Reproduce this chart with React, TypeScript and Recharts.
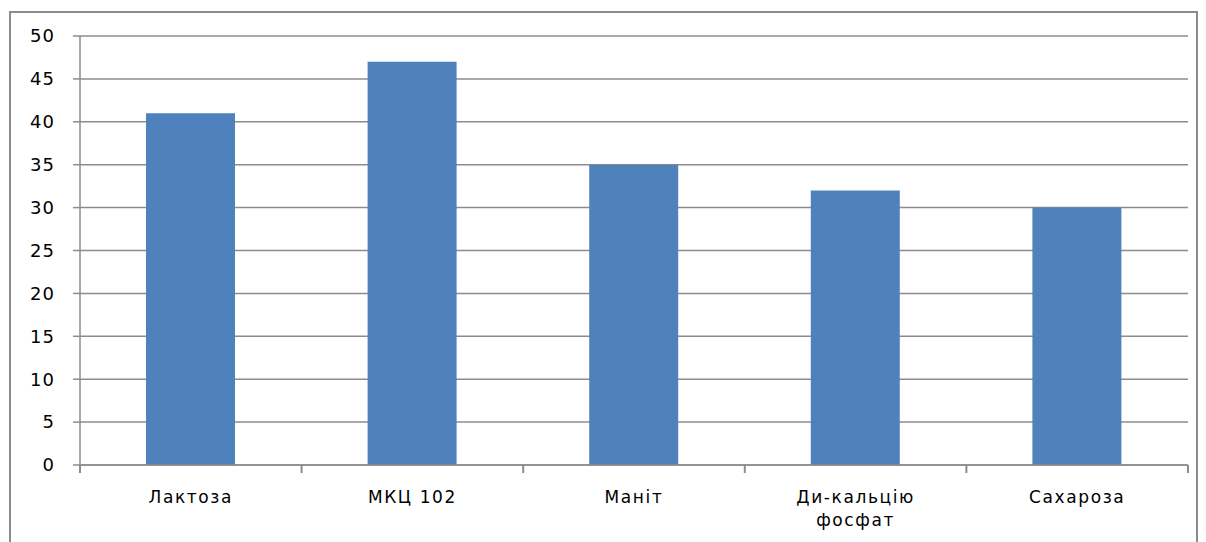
import React from 'react';
import { BarChart, Bar, XAxis, YAxis, CartesianGrid } from 'recharts';

// Категорії наповнювачів та значення показника
const categories: string[] = ['Лактоза', 'МКЦ 102', 'Маніт', 'Ди-кальцію фосфат', 'Сахароза'];
const values: number[] = [41, 47, 35, 32, 30];
const yTicks: number[] = [0, 5, 10, 15, 20, 25, 30, 35, 40, 45, 50];

const data = categories.map((name, i) => ({ name, value: values[i] }));

const FONT = '"DejaVu Sans", Verdana, sans-serif';
const GRID = '#8c8c8c';
const TICK_LEN = 8;

// Підпис категорії з поділками на межах смуги; довгі назви — у два рядки
const CategoryTick = (props: any) => {
  const { x, y, payload, index, visibleTicksCount, width } = props;
  const text: string = payload.value;
  const lines = text === 'Ди-кальцію фосфат' ? ['Ди-кальцію', 'фосфат'] : [text];
  const half: number =
    typeof payload.offset === 'number' && payload.offset > 0
      ? payload.offset
      : width / (2 * visibleTicksCount);
  const axisY = y - TICK_LEN;
  return (
    <g>
      <line x1={x - half} x2={x - half} y1={axisY} y2={y} stroke={GRID} strokeWidth={2} />
      {index === visibleTicksCount - 1 && (
        <line x1={x + half} x2={x + half} y1={axisY} y2={y} stroke={GRID} strokeWidth={2} />
      )}
      <text
        x={x}
        y={y}
        textAnchor="middle"
        fill="#000"
        fontFamily={FONT}
        fontSize={17}
        letterSpacing={1.6}
      >
        {lines.map((l, i) => (
          <tspan key={i} x={x} dy={i === 0 ? 30 : 23}>
            {l}
          </tspan>
        ))}
      </text>
    </g>
  );
};

export default function App() {
  return (
    <div style={{ position: 'absolute', left: 0, top: 0, width: 1206, height: 542, overflow: 'hidden', background: '#fff' }}>
      <div
        style={{
          position: 'absolute',
          left: 9,
          top: 11,
          width: 1189,
          height: 600,
          border: `2px solid ${GRID}`,
          boxSizing: 'border-box',
        }}
      />
      <div style={{ position: 'absolute', left: 0, top: 0 }}>
        <BarChart
          width={1206}
          height={542}
          data={data}
          margin={{ top: 36, right: 18, bottom: 17, left: 8 }}
          barSize={89}
        >
          <CartesianGrid vertical={false} stroke={GRID} strokeWidth={1.5} />
          <XAxis
            dataKey="name"
            height={60}
            interval={0}
            tickSize={TICK_LEN}
            tickMargin={0}
            tickLine={false}
            axisLine={{ stroke: GRID, strokeWidth: 1.5 }}
            tick={<CategoryTick />}
          />
          <YAxis
            width={72}
            domain={[0, 50]}
            ticks={yTicks}
            interval={0}
            tickSize={7}
            tickMargin={18}
            axisLine={{ stroke: GRID, strokeWidth: 1.5 }}
            tickLine={{ stroke: GRID, strokeWidth: 1.5 }}
            tick={{ fill: '#000', fontSize: 18, fontFamily: FONT, letterSpacing: 1 }}
          />
          <Bar dataKey="value" fill="#4f81bd" isAnimationActive={false} />
        </BarChart>
      </div>
    </div>
  );
}
